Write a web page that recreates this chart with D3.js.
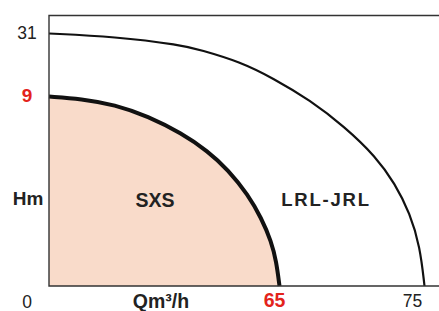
<!DOCTYPE html>
<meta charset="UTF-8">
<style>
body { margin: 0; background: #fff; }
text { font-family: "Liberation Sans", Arial, sans-serif; }
.axis { stroke: #333; stroke-width: 1.4px; fill: none; }
</style>
<body>
<script src="https://d3js.org/d3.v7.min.js"></script>
<script>

// flow (Qm3/h) and head (Hm)
var sxsQ = [0, 9.11, 18.53, 27.92, 37.31, 44.84, 50.48, 56.12, 59.87, 62.69, 64.1, 65];
var sxsH = [9, 8.89, 8.61, 8.06, 7.26, 6.40, 5.52, 4.34, 3.23, 2.12, 1.17, 0];

var lrlQ = [0, 18.5, 37.3, 42.6, 53.86, 63.25, 67.1, 69.5, 71.65, 72.95, 74.0, 74.69, 75];
var lrlH = [31, 29.9, 27.0, 25.3, 21.15, 15.35, 8.83, 7.56, 6.14, 4.88, 3.45, 1.87, 0];

var xTicks = [65, 75];
var yTicks = [0, 9, 31];
var redTicks = [9, 65];

var width = 439, height = 311;

var svg = d3.select("body").append("svg")
    .attr("width", width)
    .attr("height", height);

// axes are not to scale in the original, so the scales are piecewise
var x = d3.scaleLinear().domain([0, 65, 75]).range([49, 279.5, 424.5]);
var y = d3.scaleLinear().domain([0, 9, 31]).range([286, 96.5, 33.5]);

var sxs = sxsQ.map(function(q, i) { return [q, sxsH[i]]; });
var lrl = lrlQ.map(function(q, i) { return [q, lrlH[i]]; });

var curve = d3.curveBasis;

var area = d3.area()
    .x(function(d) { return x(d[0]); })
    .y0(y(0))
    .y1(function(d) { return y(d[1]); })
    .curve(curve);

var line = d3.line()
    .x(function(d) { return x(d[0]); })
    .y(function(d) { return y(d[1]); })
    .curve(curve);

svg.append("path")
    .attr("d", area(sxs))
    .attr("fill", "#f9dbca");

svg.append("path")
    .attr("d", line(lrl))
    .attr("fill", "none")
    .attr("stroke", "#111")
    .attr("stroke-width", 2.2);

svg.append("path")
    .attr("d", line(sxs))
    .attr("fill", "none")
    .attr("stroke", "#111")
    .attr("stroke-width", 4);

// frame: left, top, bottom (open on the right)
svg.append("path")
    .attr("class", "axis")
    .attr("d", "M" + width + "," + 15.5 + "H" + x(0) + "V" + y(0) + "H" + width);

function isRed(d) { return redTicks.indexOf(d) >= 0; }

svg.selectAll(".ylab")
    .data(yTicks)
  .enter().append("text")
    .attr("class", "ylab")
    .attr("x", 27)
    .attr("y", function(d) { return d == 0 ? 301.5 : y(d) - 1; })
    .attr("dy", "0.35em")
    .attr("text-anchor", "middle")
    .style("font-size", function(d) { return isRed(d) ? "19px" : "17.5px"; })
    .style("font-weight", function(d) { return isRed(d) ? "bold" : "normal"; })
    .attr("fill", function(d) { return isRed(d) ? "#e3231b" : "#222"; })
    .text(function(d) { return d; });

svg.selectAll(".xlab")
    .data(xTicks)
  .enter().append("text")
    .attr("class", "xlab")
    .attr("x", function(d) { return x(d) - (d == 75 ? 12 : 5); })
    .attr("y", 300.5)
    .attr("dy", "0.35em")
    .attr("text-anchor", "middle")
    .style("font-size", function(d) { return isRed(d) ? "19.5px" : "17.5px"; })
    .style("font-weight", function(d) { return isRed(d) ? "bold" : "normal"; })
    .attr("fill", function(d) { return isRed(d) ? "#e3231b" : "#222"; })
    .text(function(d) { return d; });

svg.append("text")
    .attr("x", 28).attr("y", 198).attr("dy", "0.35em")
    .attr("text-anchor", "middle")
    .style("font-size", "19px").style("font-weight", "bold")
    .attr("fill", "#222")
    .text("Hm");

svg.append("text")
    .attr("x", 161).attr("y", 301).attr("dy", "0.35em")
    .attr("text-anchor", "middle")
    .style("font-size", "19.5px").style("font-weight", "bold")
    .attr("fill", "#222")
    .text("Qm³/h");

svg.append("text")
    .attr("x", 155).attr("y", 200).attr("dy", "0.35em")
    .attr("text-anchor", "middle")
    .style("font-size", "19.5px").style("font-weight", "bold")
    .attr("fill", "#222")
    .text("SXS");

svg.append("text")
    .attr("x", 326).attr("y", 200).attr("dy", "0.35em")
    .attr("text-anchor", "middle")
    .style("font-size", "18.5px").style("font-weight", "bold")
    .style("letter-spacing", "1.8px")
    .attr("fill", "#222")
    .text("LRL-JRL");

</script>
</body>
